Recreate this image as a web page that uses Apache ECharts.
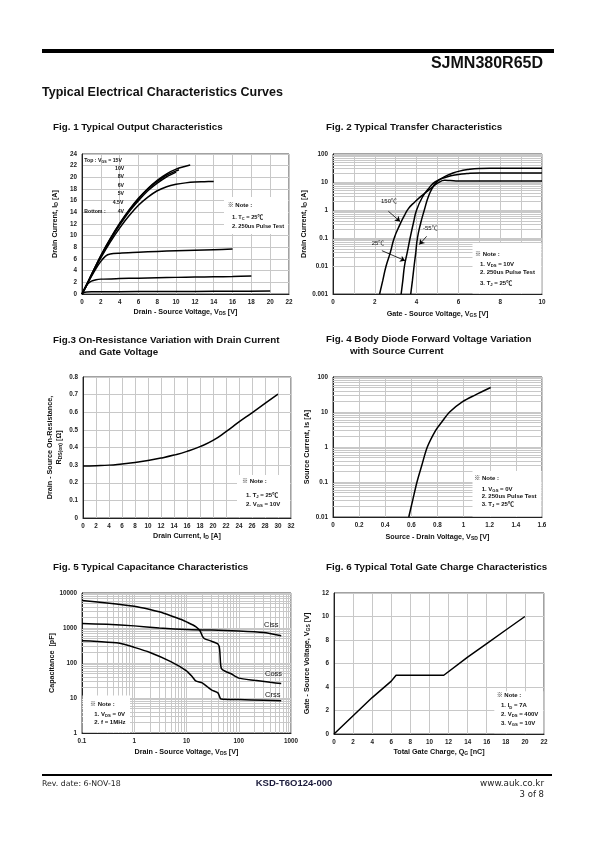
<!DOCTYPE html>
<html><head><meta charset="utf-8">
<script src="https://cdn.jsdelivr.net/npm/echarts@6/dist/echarts.min.js"></script>
<style>html,body{margin:0;padding:0;background:#fff}#c{width:595px;height:842px}</style>
</head><body><div id="c"></div>
<script>
// ---------------- DATA ----------------
// Fig 1: Output characteristics  [VDS (V), ID (A)]
const fig1_vgs15 = [[0,0],[0.5,1.6],[1,3.3],[2,6.6],[3,9.5],[4,12.1],[5,14.4],[6,16.4],[7,18.1],[8,19.5],[9,20.6],[10,21.4],[11,21.9],[11.5,22.1]];
const fig1_vgs10 = [[0,0],[0.5,1.6],[1,3.3],[2,6.5],[3,9.4],[4,12.0],[5,14.3],[6,16.3],[7,18.0],[8,19.3],[9,20.4],[10,21.1],[10.3,21.3]];
const fig1_vgs8  = [[0,0],[0.5,1.6],[1,3.2],[2,6.4],[3,9.2],[4,11.8],[5,14.1],[6,16.0],[7,17.7],[8,19.0],[9,20.1],[10,20.9]];
const fig1_vgs6  = [[0,0],[0.5,1.6],[1,3.2],[2,6.2],[3,8.9],[4,11.3],[5,13.4],[6,15.2],[7,16.6],[8,17.7],[9,18.4],[10,18.8],[11,19.05],[12,19.2],[13,19.25],[14,19.3]];
const fig1_vgs5  = [[0,0],[0.5,1.5],[1,3.0],[1.5,4.4],[2,5.6],[2.5,6.5],[3,6.85],[4,7.0],[6,7.15],[8,7.3],[10,7.4],[12,7.5],[14,7.6],[16,7.7]];
const fig1_vgs45 = [[0,0],[0.3,0.9],[0.6,1.7],[1,2.2],[1.5,2.45],[2,2.55],[4,2.65],[6,2.72],[8,2.8],[10,2.85],[12,2.9],[14,2.95],[16,3.0],[18,3.1]];
const fig1_vgs4  = [[0,0],[0.2,0.25],[0.5,0.35],[1,0.38],[4,0.4],[8,0.42],[12,0.45],[16,0.48],[20,0.5]];
const fig1_legend = ['Top : V{sub|GS} = 15V','10V','8V','6V','5V','4.5V','Bottom :','4V'];

// Fig 2: Transfer characteristics [VGS (V), ID (A)]
const fig2_m55  = [[3.72,0.001],[3.8,0.003],[3.88,0.01],[3.96,0.03],[4.04,0.1],[4.2,0.35],[4.37,1],[4.56,3],[4.75,6],[4.96,10],[5.3,15],[5.68,20],[6.0,24],[6.47,28],[7.0,30.5],[7.5,31],[10,31]];
const fig2_t25  = [[3.26,0.001],[3.34,0.003],[3.42,0.01],[3.55,0.03],[3.69,0.1],[3.85,0.35],[4.0,1],[4.29,3],[4.55,5.5],[4.88,10],[5.44,15],[6.0,18.5],[6.4,20],[7.0,21],[8,21],[10,21]];
const fig2_t150 = [[2.23,0.001],[2.38,0.003],[2.54,0.01],[2.74,0.03],[2.93,0.1],[3.2,0.3],[3.4,0.6],[3.6,1.1],[3.9,1.9],[4.3,3.5],[4.7,6],[5.04,9.5],[5.35,11.5],[5.6,11.3],[6,10.9],[7,10.8],[10,10.8]];

// Fig 3: RDS(on) vs ID [ID (A), R (ohm)]
const fig3_rds = [[0,0.295],[2,0.297],[4,0.300],[6,0.307],[8,0.315],[10,0.326],[12,0.34],[14,0.357],[16,0.378],[18,0.405],[20,0.44],[22,0.49],[24,0.545],[26,0.597],[28,0.65],[30,0.703]];

// Fig 4: Body diode [VSD (V), IS (A)]
const fig4_is = [[0.58,0.01],[0.61,0.03],[0.643,0.1],[0.68,0.3],[0.722,1],[0.786,3],[0.83,5],[0.893,10],[0.995,20],[1.084,30],[1.207,50]];

// Fig 5: Capacitance [VDS (V), C (pF)]
const fig5_ciss = [[0.1,1350],[0.3,1270],[1,1150],[3,1000],[10,900],[30,870],[100,820],[300,740],[650,600]];
const fig5_coss = [[0.1,6100],[0.3,5200],[1,4200],[2,3400],[3,2900],[5,2250],[8,1750],[10,1500],[15,1100],[18,850],[20,600],[22,500],[30,420],[40,350],[43,250],[45,90],[47,68],[55,58],[70,50],[100,37],[200,32],[400,28],[650,26]];
const fig5_crss = [[0.1,435],[0.2,410],[0.5,370],[1,280],[2,200],[5,110],[10,60],[13,40],[15,31],[20,27],[25,21],[30,17],[40,14],[45,9.5],[50,9.2],[100,9],[300,8.6],[650,8.3]];

// Fig 6: Gate charge [QG (nC), VGS (V)]
const fig6_vgs = [[0,0],[2,1.55],[4,3.1],[5,3.8],[6,4.5],[6.5,5],[11.5,5],[14,6.55],[16,7.7],[18,8.85],[20,10]];

// ---------------- STYLE ----------------
const FONT = "'Liberation Sans', Arial, 'Noto Sans CJK KR', sans-serif";
const GRID_COLOR = '#c8c8c8';
const NAME_SIZE = 7.2;
const TICK_SIZE = 6.3;
const RICH = {sub:{fontSize:5, fontWeight:'bold', fontFamily:FONT, color:'#111', padding:[3,0,0,0]}};

function logFmt(v){ return String(parseFloat(Number(v).toPrecision(3))); }

function axis(gi, o){
  return Object.assign({
    gridIndex: gi, type:'value',
    axisLine:{show:true, onZero:false, lineStyle:{color:'#222', width:1}},
    axisTick:{show:false},
    axisLabel:{fontSize:TICK_SIZE, fontWeight:'bold', fontFamily:FONT, color:'#222', margin:5},
    splitLine:{show:true, lineStyle:{color:GRID_COLOR, width:1}},
    nameLocation:'middle',
    nameTextStyle:{fontSize:NAME_SIZE, fontWeight:'bold', fontFamily:FONT, color:'#111', rich:RICH}
  }, o);
}
function logAxis(gi, o){
  const a = axis(gi, o);
  a.type = 'log'; a.logBase = 10;
  a.axisLabel = Object.assign({}, a.axisLabel, {formatter: logFmt});
  return a;
}
function minors(lo, hi){
  const out=[];
  for(let d=lo; d<hi*0.999; d*=10) for(let k=2;k<=9;k++) out.push(parseFloat((k*d).toPrecision(3)));
  return out;
}
function gridHelper(i, xs, ys){
  const d=[];
  (xs||[]).forEach(v=>d.push({xAxis:v}));
  (ys||[]).forEach(v=>d.push({yAxis:v}));
  return {type:'line', xAxisIndex:i, yAxisIndex:i, data:[], silent:true, z:1, animation:false,
    markLine:{z:1, silent:true, symbol:['none','none'], label:{show:false},
      lineStyle:{color:GRID_COLOR, width:1, type:'solid'}, emphasis:{disabled:true}, animation:false, data:d}};
}
function curve(i, data, o){
  return Object.assign({type:'line', xAxisIndex:i, yAxisIndex:i, data:data, showSymbol:false, symbol:'none',
    lineStyle:{color:'#000', width:1.5, type:'solid'}, smooth:0.3, animation:false, z:3, silent:true}, o||{});
}
function T(x, y, text, size, o){
  o = o||{};
  const st = {text:text, fontSize:size, fontFamily:o.family||FONT, fontWeight:o.weight||'bold', fill:o.fill||'#111',
    align:o.align||'left', verticalAlign:'middle', textAlign:o.align||'left', textVerticalAlign:'middle',
    rich:{sub:{fontSize:size*0.7, fontFamily:o.family||FONT, fontWeight:o.weight||'bold', fill:o.fill||'#111', padding:[size*0.55,0,0,0]}}};
  return {type:'text', x:x, y:y, z:60, silent:true, style:st};
}
function box(x,y,w,h){ return {type:'rect', z:50, silent:true, shape:{x:x,y:y,width:w,height:h}, style:{fill:'#fff', stroke:null}}; }

const grids = [
  {left:82, top:154, width:207, height:140},
  {left:333, top:154, width:209, height:140},
  {left:83, top:377, width:208, height:141},
  {left:333, top:377, width:209, height:140},
  {left:82, top:593, width:209, height:140},
  {left:334, top:593, width:210, height:141}
].map(g=>Object.assign({show:true, borderColor:'#444', borderWidth:1, backgroundColor:'#fff', containLabel:false}, g));

const xAxes = [
  axis(0,{min:0,max:22,interval:2, name:'Drain - Source Voltage, V{sub|DS} [V]', nameGap:14}),
  axis(1,{min:0,max:10,interval:2, name:'Gate - Source Voltage, V{sub|GS} [V]', nameGap:16.5,
     minorTick:{show:false, splitNumber:2}, minorSplitLine:{show:true, lineStyle:{color:GRID_COLOR,width:1}}}),
  axis(2,{min:0,max:32,interval:2, name:'Drain Current, I{sub|D} [A]', nameGap:14.5}),
  axis(3,{min:0,max:1.6,interval:0.2, name:'Source - Drain Voltage, V{sub|SD} [V]', nameGap:16.5,
     axisLabel:{fontSize:TICK_SIZE, fontWeight:'bold', fontFamily:FONT, color:'#222', margin:5, formatter:v=>String(parseFloat(v.toFixed(1)))}}),
  logAxis(4,{min:0.1,max:1000, name:'Drain - Source Voltage, V{sub|DS} [V]', nameGap:15}),
  axis(5,{min:0,max:22,interval:2, name:'Total Gate Charge, Q{sub|G} [nC]', nameGap:14.5})
];
const yAxes = [
  axis(0,{min:0,max:24,interval:2, name:'Drain Current, I{sub|D} [A]', nameGap:23}),
  logAxis(1,{min:0.001,max:100, name:'Drain Current, I{sub|D} [A]', nameGap:20}),
  axis(2,{min:0,max:0.8,interval:0.1, name:'Drain - Source On-Resistance,\nR{sub|DS(on)} [Ω]', nameGap:19,
     nameTextStyle:{fontSize:NAME_SIZE, fontWeight:'bold', fontFamily:FONT, color:'#111', rich:RICH, lineHeight:9},
     axisLabel:{fontSize:TICK_SIZE, fontWeight:'bold', fontFamily:FONT, color:'#222', margin:5, formatter:v=>String(parseFloat(v.toFixed(1)))}}),
  logAxis(3,{min:0.01,max:100, name:'Source Current, Is [A]', nameGap:22}),
  logAxis(4,{min:1,max:10000, name:'Capacitance  [pF]', nameGap:25}),
  axis(5,{min:0,max:12,interval:2, name:'Gate - Source Voltage, V{sub|GS} [V]', nameGap:23})
];

const series = [
  gridHelper(1, null, minors(0.001,100)),
  gridHelper(3, null, minors(0.01,100)),
  gridHelper(4, minors(0.1,1000), minors(1,10000)),
  curve(0, fig1_vgs15), curve(0, fig1_vgs10), curve(0, fig1_vgs8), curve(0, fig1_vgs6),
  curve(0, fig1_vgs5), curve(0, fig1_vgs45), curve(0, fig1_vgs4),
  curve(1, fig2_m55, {smooth:true}), curve(1, fig2_t25, {smooth:true}), curve(1, fig2_t150, {smooth:true}),
  {type:'line', xAxisIndex:1, yAxisIndex:1, data:[], silent:true, z:4, animation:false,
    markLine:{silent:true, symbol:['none','arrow'], symbolSize:5, label:{show:false}, animation:false,
      lineStyle:{color:'#000', width:0.8, type:'solid'}, emphasis:{disabled:true},
      data:[
        [{coord:[2.65,0.9]},{coord:[3.21,0.39]}],
        [{coord:[4.48,0.115]},{coord:[4.13,0.058]}],
        [{coord:[2.34,0.0353]},{coord:[3.45,0.0155]}]
      ]}},
  curve(2, fig3_rds, {smooth:0.5}),
  curve(3, fig4_is, {smooth:0.3}),
  curve(4, fig5_ciss, {smooth:0.2}), curve(4, fig5_coss, {smooth:0.2}), curve(4, fig5_crss, {smooth:0.2}),
  curve(5, fig6_vgs, {smooth:false})
];

const graphic = [
  {type:'rect', z:50, silent:true, shape:{x:42,y:49,width:512,height:4}, style:{fill:'#000'}},
  T(543, 64, 'SJMN380R65D', 16, {align:'right'}),
  T(42, 93, 'Typical Electrical Characteristics Curves', 12.5),
  T(53, 127, 'Fig. 1 Typical Output Characteristics', 9.8),
  T(326, 127.5, 'Fig. 2 Typical Transfer Characteristics', 9.8),
  T(53, 340, 'Fig.3 On-Resistance Variation with Drain Current', 9.8),
  T(79, 352, 'and Gate Voltage', 9.8),
  T(326, 339, 'Fig. 4 Body Diode Forward Voltage Variation', 9.8),
  T(350, 351, 'with Source Current', 9.8),
  T(53, 567, 'Fig. 5 Typical Capacitance Characteristics', 9.8),
  T(326, 567, 'Fig. 6 Typical Total Gate Charge Characteristics', 9.8),
  // fig1 legend
  T(84.3, 160.7, fig1_legend[0], 5.2),
  T(115, 168.5, fig1_legend[1], 5.2),
  T(117.7, 177, fig1_legend[2], 5.2),
  T(117.7, 185.7, fig1_legend[3], 5.2),
  T(117.7, 194, fig1_legend[4], 5.2),
  T(112.7, 202.3, fig1_legend[5], 5.2),
  T(84.3, 211.7, fig1_legend[6], 5.2),
  T(117.7, 211.7, fig1_legend[7], 5.2),
  // fig1 note
  box(224, 197, 64, 37),
  T(227.7, 205, '※ Note :', 6),
  T(232, 217.3, '1. T{sub|C} = 25℃', 5.7),
  T(232, 226.7, '2. 250us Pulse Test', 5.7),
  // fig2 note & labels
  box(472.5, 243, 69, 50.5),
  T(475, 254.3, '※ Note :', 6),
  T(480, 264, '1. V{sub|DS} = 10V', 6),
  T(480, 272.7, '2. 250us Pulse Test', 6),
  T(480, 283.3, '3. T{sub|J} = 25℃', 6),
  T(381, 201, '150℃', 6, {weight:'normal'}),
  T(423, 228.3, '-55℃', 6, {weight:'normal'}),
  T(371.7, 243.3, '25℃', 6, {weight:'normal'}),
  // fig3 note
  box(237, 475, 53, 42),
  T(242, 481.7, '※ Note :', 6),
  T(246, 495.2, '1. T{sub|J} = 25℃', 6),
  T(246, 504.5, '2. V{sub|GS} = 10V', 6),
  // fig4 note
  box(472.5, 471, 69, 45.5),
  T(474.3, 478.3, '※ Note :', 6),
  T(481.7, 489, '1. V{sub|GS} = 0V', 6),
  T(481.7, 496.5, '2. 250us Pulse Test', 6),
  T(481.7, 504.3, '3. T{sub|J} = 25℃', 6),
  // fig5 labels & note
  T(264, 624.7, 'Ciss', 7.5, {weight:'normal'}),
  T(265, 674, 'Coss', 7.5, {weight:'normal'}),
  T(265, 694.7, 'Crss', 7.5, {weight:'normal'}),
  box(82.5, 695.5, 47.5, 37),
  T(90, 704.7, '※ Note :', 6),
  T(94.3, 714, '1. V{sub|DS} = 0V', 6),
  T(94.3, 722.3, '2. f = 1MHz', 6),
  // fig6 note
  box(494.3, 691.3, 49, 42),
  T(496.7, 695.7, '※ Note :', 6),
  T(501, 705.7, '1. I{sub|D} = 7A', 6),
  T(501, 714.2, '2. V{sub|DS} = 400V', 6),
  T(501, 723, '3. V{sub|GS} = 10V', 6),
  // footer
  {type:'rect', z:50, silent:true, shape:{x:42,y:774,width:510,height:2}, style:{fill:'#000'}},
  T(42, 783.5, 'Rev. date: 6-NOV-18', 7.8, {family:"'DejaVu Sans', sans-serif", weight:'normal', fill:'#222'}),
  T(294, 783.5, 'KSD-T6O124-000', 9.5, {align:'center', fill:'#1a1a3a'}),
  T(544, 783.5, 'www.auk.co.kr', 8.8, {align:'right', family:"'DejaVu Sans', sans-serif", weight:'normal', fill:'#222'}),
  T(544, 794.5, '3 of 8', 8.5, {align:'right', family:"'DejaVu Sans', sans-serif", weight:'normal', fill:'#222'})
];

const chart = echarts.init(document.getElementById('c'), null, {renderer:'canvas', width:595, height:842});
chart.setOption({
  animation:false,
  backgroundColor:'#fff',
  grid: grids, xAxis: xAxes, yAxis: yAxes, series: series, graphic: graphic
});
</script></body></html>
